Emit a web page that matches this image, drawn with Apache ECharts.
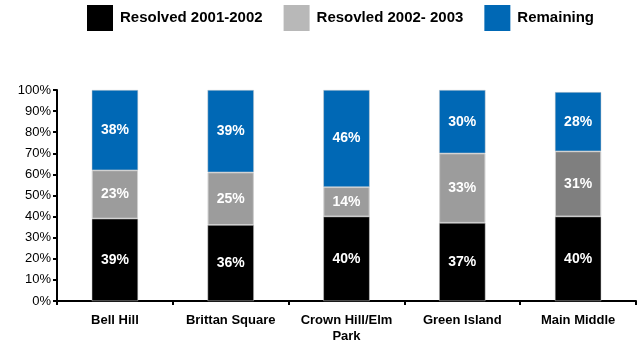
<!DOCTYPE html>
<html>
<head>
<meta charset="utf-8">
<script src="https://cdn.jsdelivr.net/npm/echarts@6/dist/echarts.min.js"></script>
<style>
  html, body { margin: 0; padding: 0; background: #fff; }
  #chart { width: 640px; height: 347px; }
</style>
</head>
<body>
<div id="chart"></div>
<script>
// Share of issues by area, stacked to 100%
const categories = ['Bell Hill', 'Brittan Square', 'Crown Hill/Elm\nPark', 'Green Island', 'Main Middle'];
const resolved0102 = [39, 36, 40, 37, 40];
const resolved0203 = [23, 25, 14, 33, 31];
const remaining = [38, 39, 46, 30, 28];
const yTicks = [0, 10, 20, 30, 40, 50, 60, 70, 80, 90, 100];

const FONT = '"Liberation Sans", Arial, sans-serif';

const labelStyle = {
  show: true,
  position: 'inside',
  color: '#fff',
  fontFamily: FONT,
  fontWeight: 'bold',
  fontSize: 14,
  formatter: p => p.value + '%'
};

const chart = echarts.init(document.getElementById('chart'));
chart.setOption({
  animation: false,
  backgroundColor: '#fff',
  legend: {
    left: 87,
    top: 5,
    padding: 0,
    itemWidth: 26,
    itemHeight: 26,
    itemGap: 21,
    textStyle: { fontFamily: FONT, fontWeight: 'bold', fontSize: 15, color: '#000', padding: [0, 0, 0, 2] },
    data: [
      { name: 'Resolved 2001-2002', icon: 'rect', itemStyle: { color: '#000000', borderWidth: 0 } },
      { name: 'Resovled 2002- 2003', icon: 'rect', itemStyle: { color: '#B8B8B8', borderWidth: 0 } },
      { name: 'Remaining', icon: 'rect', itemStyle: { color: '#0068B5', borderWidth: 0 } }
    ]
  },
  grid: { left: 57, right: 4, top: 90, bottom: 46, containLabel: false },
  xAxis: {
    type: 'category',
    data: categories,
    axisLine: { lineStyle: { color: '#000', width: 2 } },
    axisTick: { show: true, length: 4, lineStyle: { color: '#000', width: 2 } },
    axisLabel: {
      interval: 0,
      margin: 11,
      color: '#000',
      fontFamily: FONT,
      fontWeight: 'bold',
      fontSize: 13,
      lineHeight: 16
    }
  },
  yAxis: {
    type: 'value',
    min: yTicks[0],
    max: yTicks[yTicks.length - 1],
    interval: 10,
    splitLine: { show: false },
    axisLine: { show: true, lineStyle: { color: '#000', width: 2 } },
    axisTick: { show: true, length: 4, lineStyle: { color: '#000', width: 2 } },
    axisLabel: {
      margin: 6,
      color: '#000',
      fontFamily: FONT,
      fontSize: 13,
      formatter: v => v + '%'
    }
  },
  series: [
    {
      name: 'Resolved 2001-2002',
      type: 'bar',
      stack: 'total',
      barWidth: '40%',
      data: resolved0102,
      itemStyle: { color: '#000000', borderColor: '#cfcfcf', borderWidth: 0.5 },
      label: labelStyle
    },
    {
      name: 'Resovled 2002- 2003',
      type: 'bar',
      stack: 'total',
      data: resolved0203.map((v, i) => i === 4
        ? { value: v, itemStyle: { color: '#7F7F7F' } }
        : v),
      itemStyle: { color: '#9C9C9C', borderColor: '#cfcfcf', borderWidth: 1 },
      label: labelStyle
    },
    {
      name: 'Remaining',
      type: 'bar',
      stack: 'total',
      data: remaining,
      itemStyle: { color: '#0068B5', borderColor: '#cfcfcf', borderWidth: 0.5 },
      label: labelStyle
    }
  ]
});
</script>
</body>
</html>
